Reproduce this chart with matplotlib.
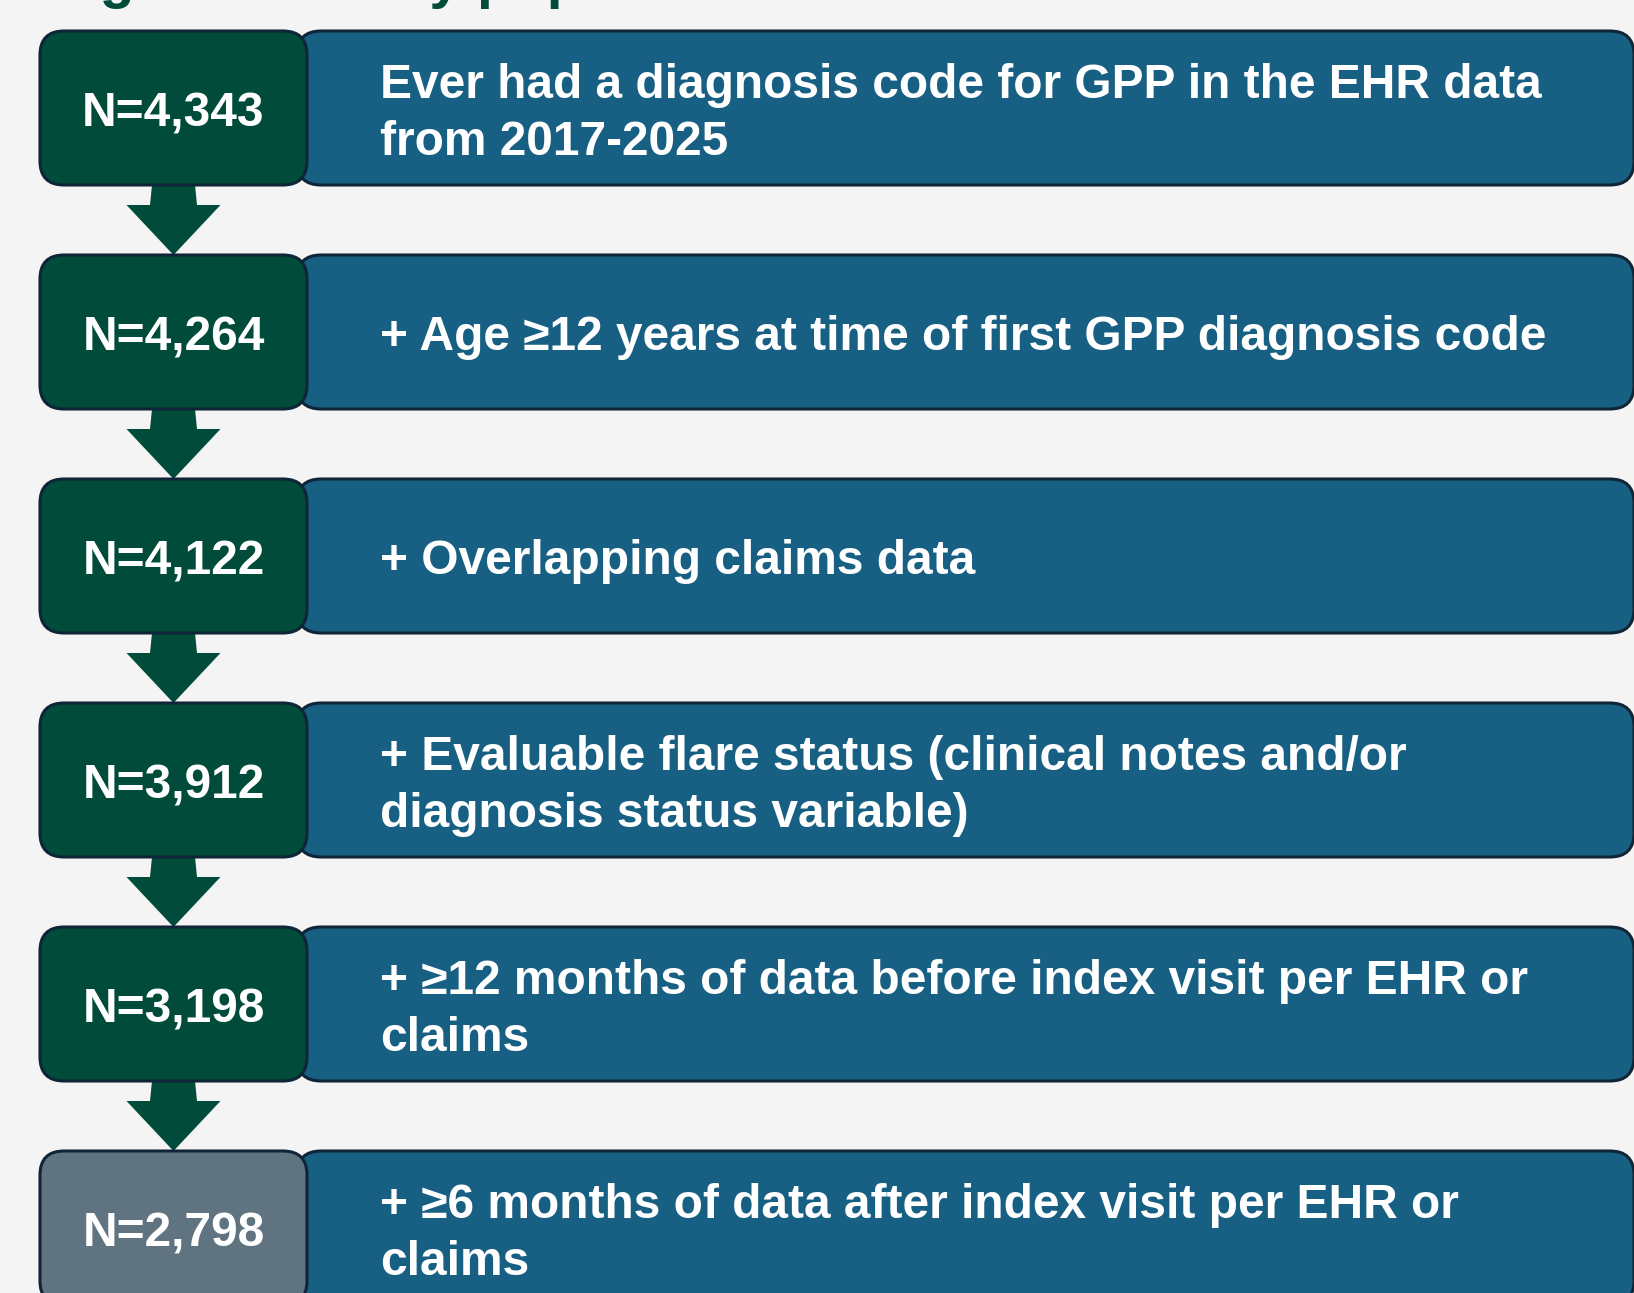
import matplotlib.pyplot as plt
from matplotlib.patches import FancyBboxPatch, Polygon

plt.rcParams['font.family'] = ['Liberation Sans', 'DejaVu Sans']

# Attrition counts and step labels
counts = ["N=4,343", "N=4,264", "N=4,122", "N=3,912", "N=3,198", "N=2,798"]
steps = [
    "Ever had a diagnosis code for GPP in the EHR data\nfrom 2017-2025",
    "+ Age \u226512 years at time of first GPP diagnosis code",
    "+ Overlapping claims data",
    "+ Evaluable flare status (clinical notes and/or\ndiagnosis status variable)",
    "+ \u226512 months of data before index visit per EHR or\nclaims",
    "+ \u22656 months of data after index visit per EHR or\nclaims",
]
title = "Figure 1. Study population"

bg = "#f4f4f4"
green = "#004b3a"
grey = "#5f7480"
blue = "#186083"
edge = "#0f2537"

W, H = 1634, 1293
fig = plt.figure(figsize=(W / 100, H / 100), dpi=100, facecolor=bg)
ax = fig.add_axes([0, 0, 1, 1])
ax.set_xlim(0, W)
ax.set_ylim(H, 0)
ax.axis("off")
ax.set_facecolor(bg)

top0, pitch, bh = 31, 224, 154
gx0, gx1 = 40, 307
bx0, bx1 = 297, 1634
cx = (gx0 + gx1) / 2

# title sits mostly above the visible area, only descenders show
ax.text(49, -3, title, fontsize=41, fontweight="bold", color=green,
        ha="left", va="baseline", clip_on=False)

for i, (n, s) in enumerate(zip(counts, steps)):
    top = top0 + i * pitch
    # blue description box (drawn first, green box overlaps its left end)
    ax.add_patch(FancyBboxPatch((bx0, top), bx1 - bx0, bh,
                                boxstyle="round,pad=0,rounding_size=24",
                                fc=blue, ec=edge, lw=2.2, zorder=2))
    fc = grey if i == len(counts) - 1 else green
    ax.add_patch(FancyBboxPatch((gx0, top), gx1 - gx0, bh,
                                boxstyle="round,pad=0,rounding_size=24",
                                fc=fc, ec=edge, lw=2.2, zorder=3))
    ax.text(cx, top + bh / 2 + 6, n, fontsize=34.5, fontweight="bold",
            color="white", ha="center", va="center", zorder=4)
    ax.text(380, top + bh / 2 + 6, s, fontsize=34.5, fontweight="bold",
            color="white", ha="left", va="center", linespacing=1.32, zorder=4)

    # down arrow to the next box
    if i < len(counts) - 1:
        y0 = top + bh - 5
        yh = top + bh + 20
        tip = top + pitch
        arrow = Polygon([(cx - 21, y0), (cx + 21, y0), (cx + 23.5, yh),
                         (cx + 47, yh), (cx, tip), (cx - 47, yh),
                         (cx - 23.5, yh)],
                        closed=True, fc=green, ec="none", zorder=1)
        ax.add_patch(arrow)

fig.savefig("out.png", dpi=100, facecolor=bg)
